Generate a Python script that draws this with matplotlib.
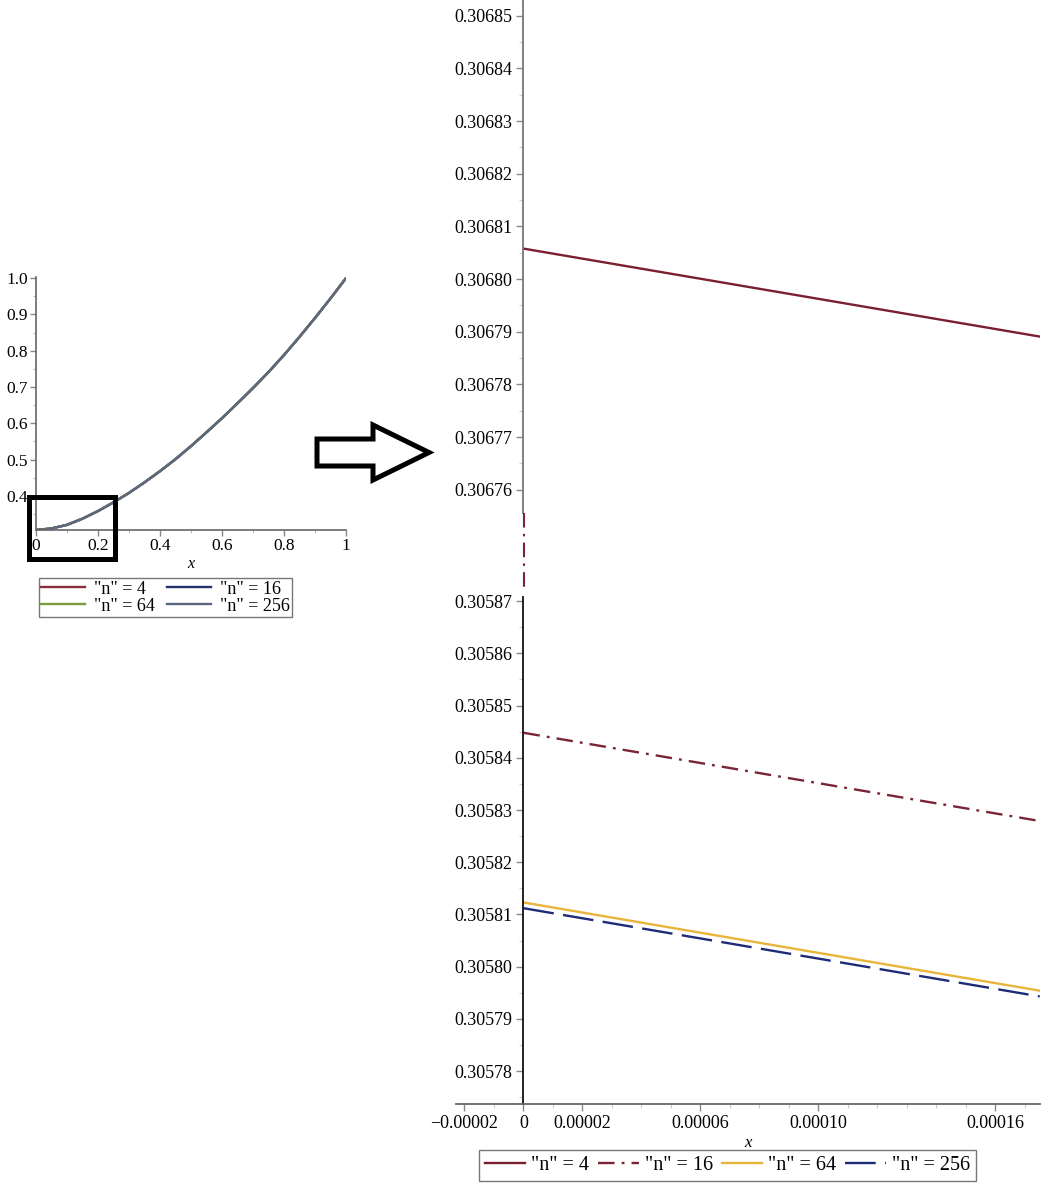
import matplotlib
matplotlib.use("Agg")
import matplotlib.pyplot as plt
from matplotlib.lines import Line2D
from matplotlib.patches import Polygon, Rectangle
from matplotlib.ticker import FixedLocator, MultipleLocator, FixedFormatter

plt.rcParams['font.family'] = ['Liberation Serif', 'DejaVu Serif']

# ---------------- data ----------------
labels = ['"n" = 4', '"n" = 16', '"n" = 64', '"n" = 256']

# overview curve (all four n overlap at this scale)
overview_x = [0.0, 0.05, 0.1, 0.15, 0.2, 0.25, 0.3, 0.35, 0.4, 0.45, 0.5,
              0.55, 0.6, 0.65, 0.7, 0.75, 0.8, 0.85, 0.9, 0.95, 1.0]
overview_y = [0.3058, 0.310, 0.320, 0.337, 0.358, 0.382, 0.408, 0.437, 0.468, 0.501, 0.537,
              0.575, 0.614, 0.655, 0.697, 0.741, 0.788, 0.838, 0.890, 0.944, 1.0]

# zoomed view near x = 0
zoom_x = [0.0, 0.000175]
zoom_n4 = [0.3068058, 0.3067891]
zoom_n16 = [0.3058448, 0.3058279]
zoom_n64 = [0.3058123, 0.3057954]
zoom_n256 = [0.3058112, 0.3057943]

left_yticks = [0.4, 0.5, 0.6, 0.7, 0.8, 0.9, 1.0]
left_yticklabels = ['0.4', '0.5', '0.6', '0.7', '0.8', '0.9', '1.0']
left_xticks = [0, 0.2, 0.4, 0.6, 0.8, 1.0]
left_xticklabels = ['0', '0.2', '0.4', '0.6', '0.8', '1']

top_yticks = [0.30676, 0.30677, 0.30678, 0.30679, 0.30680, 0.30681, 0.30682, 0.30683, 0.30684, 0.30685]
bot_yticks = [0.30578, 0.30579, 0.30580, 0.30581, 0.30582, 0.30583, 0.30584, 0.30585, 0.30586, 0.30587]
bot_xticks = [-0.00002, 0.0, 0.00002, 0.00006, 0.00010, 0.00016]
bot_xticklabels = ['\u22120.00002', '0', '0.00002', '0.00006', '0.00010', '0.00016']

# ---------------- style ----------------
W, H = 1045, 1183
fig = plt.figure(figsize=(W / 100, H / 100), dpi=100)

left_colors = ['#8B2E3C', '#26306A', '#7E9C3C', '#5C6880']
c4, c16, c64, c256 = '#7A1F2D', '#7A2536', '#E8B43A', '#1E2B78'
ls16 = (0, (7, 3, 1.2, 3))
ls256 = (0, (13, 4))
FS = 12.5


def px_rect(x0, y0, x1, y1):
    return [x0 / W, 1 - y1 / H, (x1 - x0) / W, (y1 - y0) / H]


def px(x, y):
    return (x / W, 1 - y / H)


# ---------------- left overview ----------------
axL = fig.add_axes(px_rect(36, 277, 346, 530))
lines_left = []
for c, lab in zip(left_colors, labels):
    ln, = axL.plot(overview_x, overview_y, color=c, lw=1.7, label=lab)
    lines_left.append(ln)
axL.set_xlim(0, 1.0)
axL.set_ylim(0.3058, 1.003)
for s in ['top', 'right']:
    axL.spines[s].set_visible(False)
for s in ['left', 'bottom']:
    axL.spines[s].set_color('#666666')
    axL.spines[s].set_linewidth(1.2)
axL.yaxis.set_major_locator(FixedLocator(left_yticks))
axL.yaxis.set_major_formatter(FixedFormatter(left_yticklabels))
axL.xaxis.set_major_locator(FixedLocator(left_xticks))
axL.xaxis.set_major_formatter(FixedFormatter(left_xticklabels))
axL.xaxis.set_minor_locator(MultipleLocator(0.1))
axL.yaxis.set_minor_locator(MultipleLocator(0.05))
axL.tick_params(which='major', direction='out', length=4, width=1, color='#888888',
                labelsize=FS, pad=2)
axL.tick_params(which='minor', direction='out', length=2.5, width=0.8, color='#bbbbbb')
axL.set_xlabel('x', fontstyle='italic', fontsize=FS - 1, labelpad=1)

hL = [lines_left[0], lines_left[2], lines_left[1], lines_left[3]]
legL = fig.legend(hL, [labels[0], labels[2], labels[1], labels[3]], ncol=2,
                  loc='upper center', bbox_to_anchor=px(165.5, 578),
                  fontsize=13, frameon=True, fancybox=False, edgecolor='#555555',
                  handlelength=2.4, handletextpad=0.5, columnspacing=0.7,
                  labelspacing=0.0, borderpad=0.15, borderaxespad=0)
legL.get_frame().set_linewidth(1.0)

# highlight box around zoomed region
fig.add_artist(Rectangle(px(28.5, 559.5), 86 / W, 62 / H, transform=fig.transFigure,
                         fill=False, edgecolor='black', lw=3.6))

# block arrow
arrow_pts = [px(317, 439), px(373, 439), px(373, 425), px(429, 452.5),
             px(373, 480), px(373, 466), px(317, 466)]
fig.add_artist(Polygon(arrow_pts, closed=True, transform=fig.transFigure,
                       fill=False, edgecolor='black', lw=3.6, joinstyle='miter'))

# ---------------- right zoom: top panel ----------------
xl = (-2.288e-5, 1.751e-4)
axT = fig.add_axes(px_rect(456, 0, 1040, 513))
axT.plot(zoom_x, zoom_n4, color=c4, lw=1.7)
axT.set_xlim(*xl)
axT.set_ylim(0.3067556, 0.3068530)
for s in ['top', 'right', 'bottom']:
    axT.spines[s].set_visible(False)
axT.spines['left'].set_position(('data', 0))
axT.spines['left'].set_color('#777777')
axT.spines['left'].set_linewidth(1.3)
axT.set_xticks([])
axT.yaxis.set_major_locator(FixedLocator(top_yticks))
axT.yaxis.set_major_formatter(FixedFormatter(['%.5f' % v for v in top_yticks]))
axT.yaxis.set_minor_locator(MultipleLocator(0.000005))
axT.tick_params(which='major', direction='out', length=5, width=1, color='#888888',
                labelsize=13, pad=3)
axT.tick_params(which='minor', direction='out', length=3, width=0.8, color='#cccccc')

# ---------------- right zoom: bottom panel ----------------
axB = fig.add_axes(px_rect(456, 597, 1040, 1104))
l16, = axB.plot(zoom_x, zoom_n16, color=c16, lw=1.7, linestyle=ls16)
l64, = axB.plot(zoom_x, zoom_n64, color=c64, lw=1.7)
l256, = axB.plot(zoom_x, zoom_n256, color=c256, lw=1.7, linestyle=ls256)
axB.set_xlim(*xl)
axB.set_ylim(0.3057737, 0.3058708)
for s in ['top', 'right']:
    axB.spines[s].set_visible(False)
axB.spines['left'].set_position(('data', 0))
axB.spines['left'].set_color('#111111')
axB.spines['left'].set_linewidth(1.3)
axB.spines['bottom'].set_color('#666666')
axB.spines['bottom'].set_linewidth(1.3)
axB.yaxis.set_major_locator(FixedLocator(bot_yticks))
axB.yaxis.set_major_formatter(FixedFormatter(['%.5f' % v for v in bot_yticks]))
axB.yaxis.set_minor_locator(MultipleLocator(0.000005))
axB.xaxis.set_major_locator(FixedLocator(bot_xticks))
axB.xaxis.set_major_formatter(FixedFormatter(bot_xticklabels))
axB.xaxis.set_minor_locator(MultipleLocator(0.00001))
axB.tick_params(which='major', direction='out', length=5, width=1, color='#888888',
                labelsize=13, pad=3)
axB.tick_params(which='minor', direction='out', length=3, width=0.8, color='#cccccc')
axB.set_xlabel('x', fontstyle='italic', fontsize=12, labelpad=2)

# axis break marker
fig.add_artist(Line2D([px(524, 513)[0], px(524, 593)[0]], [px(524, 513)[1], px(524, 593)[1]],
                      transform=fig.transFigure, color=c16, lw=1.5, linestyle=ls16))

legR = fig.legend([axT.lines[0], l16, l64, l256], labels, ncol=4,
                  loc='upper center', bbox_to_anchor=px(727.5, 1150),
                  fontsize=14.5, frameon=True, fancybox=False, edgecolor='#555555',
                  handlelength=2.0, handletextpad=0.3, columnspacing=0.45,
                  borderpad=0.3, borderaxespad=0)
legR.get_frame().set_linewidth(1.0)

fig.savefig('out.png', dpi=100)
